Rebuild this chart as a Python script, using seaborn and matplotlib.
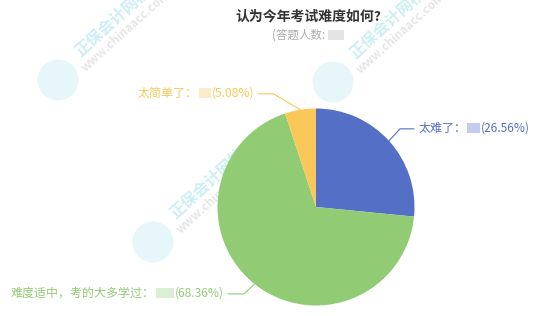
import numpy as np
import matplotlib
matplotlib.use("Agg")
import matplotlib.pyplot as plt
import seaborn as sns
from matplotlib.patches import Rectangle, Circle

# ---- data ----
categories = ["太难了", "难度适中，考的大多学过", "太简单了"]
shares = [26.56, 68.36, 5.08]
slice_colors = ["#5470c6", "#91cc75", "#fac858"]
count_tints = ["#c3cbee", "#dcefd4", "#fdecc9"]
title_text = "认为今年考试难度如何?"
subtitle_text = "(答题人数: "
brand_text = "正保会计网校"
brand_url = "www.chinaacc.com"

sns.set_theme(style="white")
plt.rcParams["font.family"] = ["Noto Sans CJK SC", "DejaVu Sans"]

W, H = 538, 316
fig = plt.figure(figsize=(W / 100, H / 100), dpi=100)
fig.patch.set_facecolor("white")

# full-figure layer in pixel units (y grows downward)
ov = fig.add_axes([0, 0, 1, 1], zorder=0)
ov.set_xlim(0, W)
ov.set_ylim(H, 0)
ov.axis("off")

# faint brand marks in the background
for bx, by in [(58, 80), (153, 242), (333, 82)]:
    ov.add_patch(Circle((bx, by), 20.5, fc="#e7f7f9", ec="none", zorder=0))
    ov.text(bx + 55, by - 59, brand_text, rotation=42, rotation_mode="anchor",
            ha="center", va="center", fontsize=11.5, fontweight="bold",
            color="#cdeef2", zorder=0)
    ov.text(bx + 68, by - 49, brand_url, rotation=42, rotation_mode="anchor",
            ha="center", va="center", fontsize=8.5, fontweight="bold",
            color="#e6e6e6", zorder=0)

# ---- pie ----
CX, CY, R = 316, 207, 98.5
pax = fig.add_axes([(CX - R) / W, (H - CY - R) / H, 2 * R / W, 2 * R / H], zorder=1)
palette = sns.color_palette(slice_colors)
wedges, _ = pax.pie(shares, colors=palette, startangle=90, counterclock=False,
                    radius=1, wedgeprops=dict(linewidth=0))
pax.set_xlim(-1, 1)
pax.set_ylim(-1, 1)
pax.set_aspect("equal")
pax.axis("off")

# ---- title ----
FS = 8.64
ov.text(235, 16, title_text, ha="left", va="center", fontsize=10.0,
        fontweight="bold", color="#333333")
sub = ov.text(272, 35, subtitle_text, ha="left", va="center", fontsize=8.3,
              color="#aaaaaa")

fig.canvas.draw()
renderer = fig.canvas.get_renderer()


def width_px(t):
    return t.get_window_extent(renderer).width


sw = width_px(sub)
ov.add_patch(Rectangle((272 + sw, 30), 16, 10, fc="#e4e4e4", ec="none"))

# ---- labels with leader lines ----
elbow_offsets = [(11, -12), (-10.5, 10), (-27, -16)]
tail_lengths = [14, -16, -15]
box_widths = [13, 18, 12]

for w, name, share, col, tint, (dx, dy), tail, bw in zip(
        wedges, categories, shares, slice_colors, count_tints,
        elbow_offsets, tail_lengths, box_widths):
    mid = np.deg2rad((w.theta1 + w.theta2) / 2)
    ex, ey = CX + R * np.cos(mid), CY - R * np.sin(mid)
    kx, ky = ex + dx, ey + dy
    tx = kx + tail
    ov.plot([ex, kx, tx], [ey, ky, ky], color=col, lw=0.8,
            solid_joinstyle="miter", zorder=2)
    pct = f"({share:.2f}%)"
    yt = ky - 0.5
    if tail > 0:
        x0 = tx + 5
        t1 = ov.text(x0, yt, name + "：", ha="left", va="center",
                     fontsize=FS, color=col)
        fig.canvas.draw()
        w1 = width_px(t1)
        ov.add_patch(Rectangle((x0 + w1, yt - 5), bw, 10, fc=tint, ec="none"))
        ov.text(x0 + w1 + bw + 1, yt, pct, ha="left", va="center",
                fontsize=FS, color=col)
    else:
        xe = tx - 4
        t2 = ov.text(xe, yt, pct, ha="right", va="center",
                     fontsize=FS, color=col)
        fig.canvas.draw()
        w2 = width_px(t2)
        bx1 = xe - w2 - 1
        ov.add_patch(Rectangle((bx1 - bw, yt - 5), bw, 10, fc=tint, ec="none"))
        ov.text(bx1 - bw - 1, yt, name + "：", ha="right", va="center",
                fontsize=FS, color=col)

fig.savefig("out.png", dpi=100, facecolor="white")
